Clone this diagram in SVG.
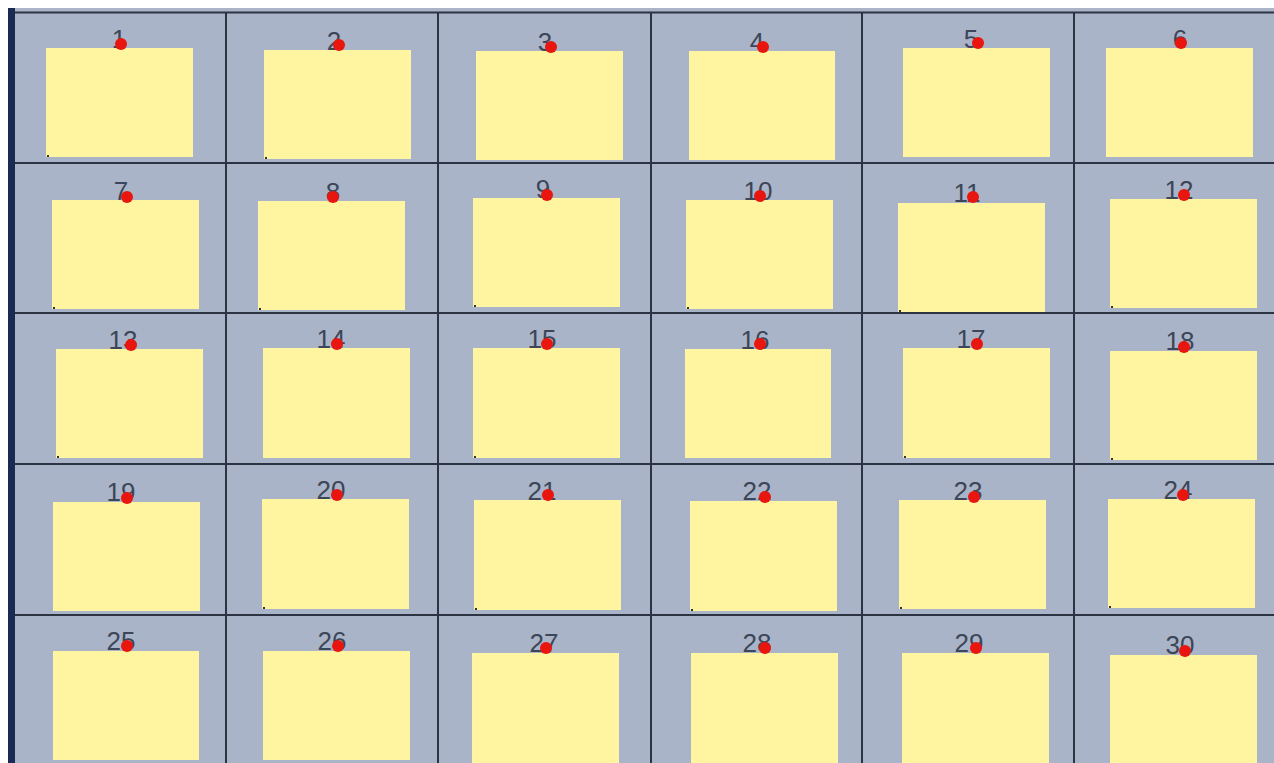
<svg xmlns="http://www.w3.org/2000/svg" width="1274" height="763" viewBox="0 0 1274 763">
<style>
.bg{fill:#aab4c8}
.note{fill:#fff5a0}
.pin{fill:#e8160e}
.num{font-family:"Liberation Sans",Arial,sans-serif;font-size:26px;fill:#3c4658;text-anchor:middle}
.grid line{stroke:#2c3444;stroke-width:2}
.dot{fill:#333}
</style>
<rect x="0" y="0" width="1274" height="763" fill="#ffffff"/>
<rect class="bg" x="14" y="8" width="1260" height="755"/>
<rect x="8" y="8" width="7" height="755" fill="#1a2a52"/>
<g id="connectors" class="grid">
<line x1="15" y1="12.5" x2="1274" y2="12.5" stroke-width="3"/>
<line x1="15" y1="163" x2="1274" y2="163"/>
<line x1="15" y1="313" x2="1274" y2="313"/>
<line x1="15" y1="464" x2="1274" y2="464"/>
<line x1="15" y1="615" x2="1274" y2="615"/>
<line x1="226" y1="12" x2="226" y2="763"/>
<line x1="438" y1="12" x2="438" y2="763"/>
<line x1="651" y1="12" x2="651" y2="763"/>
<line x1="862" y1="12" x2="862" y2="763"/>
<line x1="1074" y1="12" x2="1074" y2="763"/>
</g>
<g id="n1"><rect class="note" x="46" y="48" width="147" height="109"/><text class="num" x="119" y="48">1</text><circle class="pin" cx="121" cy="44" r="6"/><rect class="dot" x="47" y="155" width="2" height="2"/></g>
<g id="n2"><rect class="note" x="264" y="50" width="147" height="109"/><text class="num" x="334" y="50">2</text><circle class="pin" cx="339" cy="45" r="6"/><rect class="dot" x="265" y="157" width="2" height="2"/></g>
<g id="n3"><rect class="note" x="476" y="51" width="147" height="109"/><text class="num" x="545" y="51">3</text><circle class="pin" cx="551" cy="47" r="6"/></g>
<g id="n4"><rect class="note" x="689" y="51" width="146" height="109"/><text class="num" x="757" y="51">4</text><circle class="pin" cx="763" cy="47" r="6"/></g>
<g id="n5"><rect class="note" x="903" y="48" width="147" height="109"/><text class="num" x="971" y="48">5</text><circle class="pin" cx="978" cy="43" r="6"/></g>
<g id="n6"><rect class="note" x="1106" y="48" width="147" height="109"/><text class="num" x="1180" y="48">6</text><circle class="pin" cx="1181" cy="43" r="6"/></g>
<g id="n7"><rect class="note" x="52" y="200" width="147" height="109"/><text class="num" x="121" y="200">7</text><circle class="pin" cx="127" cy="197" r="6"/><rect class="dot" x="53" y="307" width="2" height="2"/></g>
<g id="n8"><rect class="note" x="258" y="201" width="147" height="109"/><text class="num" x="333" y="201">8</text><circle class="pin" cx="333" cy="197" r="6"/><rect class="dot" x="259" y="308" width="2" height="2"/></g>
<g id="n9"><rect class="note" x="473" y="198" width="147" height="109"/><text class="num" x="543" y="198">9</text><circle class="pin" cx="547" cy="195" r="6"/><rect class="dot" x="474" y="305" width="2" height="2"/></g>
<g id="n10"><rect class="note" x="686" y="200" width="147" height="109"/><text class="num" x="758" y="200">10</text><circle class="pin" cx="760" cy="196" r="6"/><rect class="dot" x="687" y="307" width="2" height="2"/></g>
<g id="n11"><rect class="note" x="898" y="203" width="147" height="109"/><text class="num" x="967" y="202">11</text><circle class="pin" cx="973" cy="197" r="6"/><rect class="dot" x="899" y="310" width="2" height="2"/></g>
<g id="n12"><rect class="note" x="1110" y="199" width="147" height="109"/><text class="num" x="1179" y="199">12</text><circle class="pin" cx="1184" cy="195" r="6"/><rect class="dot" x="1111" y="306" width="2" height="2"/></g>
<g id="n13"><rect class="note" x="56" y="349" width="147" height="109"/><text class="num" x="123" y="349">13</text><circle class="pin" cx="131" cy="345" r="6"/><rect class="dot" x="57" y="456" width="2" height="2"/></g>
<g id="n14"><rect class="note" x="263" y="348" width="147" height="110"/><text class="num" x="331" y="348">14</text><circle class="pin" cx="337" cy="344" r="6"/></g>
<g id="n15"><rect class="note" x="473" y="348" width="147" height="110"/><text class="num" x="542" y="348">15</text><circle class="pin" cx="547" cy="344" r="6"/><rect class="dot" x="474" y="456" width="2" height="2"/></g>
<g id="n16"><rect class="note" x="685" y="349" width="146" height="109"/><text class="num" x="755" y="349">16</text><circle class="pin" cx="760" cy="344" r="6"/></g>
<g id="n17"><rect class="note" x="903" y="348" width="147" height="110"/><text class="num" x="971" y="348">17</text><circle class="pin" cx="977" cy="344" r="6"/><rect class="dot" x="904" y="456" width="2" height="2"/></g>
<g id="n18"><rect class="note" x="1110" y="351" width="147" height="109"/><text class="num" x="1180" y="350">18</text><circle class="pin" cx="1184" cy="347" r="6"/><rect class="dot" x="1111" y="458" width="2" height="2"/></g>
<g id="n19"><rect class="note" x="53" y="502" width="147" height="109"/><text class="num" x="121" y="501">19</text><circle class="pin" cx="127" cy="498" r="6"/></g>
<g id="n20"><rect class="note" x="262" y="499" width="147" height="110"/><text class="num" x="331" y="499">20</text><circle class="pin" cx="337" cy="495" r="6"/><rect class="dot" x="263" y="607" width="2" height="2"/></g>
<g id="n21"><rect class="note" x="474" y="500" width="147" height="110"/><text class="num" x="542" y="500">21</text><circle class="pin" cx="548" cy="495" r="6"/><rect class="dot" x="475" y="608" width="2" height="2"/></g>
<g id="n22"><rect class="note" x="690" y="501" width="147" height="110"/><text class="num" x="757" y="500">22</text><circle class="pin" cx="765" cy="497" r="6"/><rect class="dot" x="691" y="609" width="2" height="2"/></g>
<g id="n23"><rect class="note" x="899" y="500" width="147" height="109"/><text class="num" x="968" y="500">23</text><circle class="pin" cx="974" cy="497" r="6"/><rect class="dot" x="900" y="607" width="2" height="2"/></g>
<g id="n24"><rect class="note" x="1108" y="499" width="147" height="109"/><text class="num" x="1178" y="499">24</text><circle class="pin" cx="1183" cy="495" r="6"/><rect class="dot" x="1109" y="606" width="2" height="2"/></g>
<g id="n25"><rect class="note" x="53" y="651" width="146" height="109"/><text class="num" x="121" y="650">25</text><circle class="pin" cx="127" cy="646" r="6"/></g>
<g id="n26"><rect class="note" x="263" y="651" width="147" height="109"/><text class="num" x="332" y="650">26</text><circle class="pin" cx="338" cy="646" r="6"/></g>
<g id="n27"><rect class="note" x="472" y="653" width="147" height="110"/><text class="num" x="544" y="652">27</text><circle class="pin" cx="546" cy="648" r="6"/></g>
<g id="n28"><rect class="note" x="691" y="653" width="147" height="110"/><text class="num" x="757" y="652">28</text><circle class="pin" cx="765" cy="648" r="6"/></g>
<g id="n29"><rect class="note" x="902" y="653" width="147" height="110"/><text class="num" x="969" y="652">29</text><circle class="pin" cx="976" cy="648" r="6"/></g>
<g id="n30"><rect class="note" x="1110" y="655" width="147" height="108"/><text class="num" x="1180" y="654">30</text><circle class="pin" cx="1185" cy="651" r="6"/></g>
</svg>
